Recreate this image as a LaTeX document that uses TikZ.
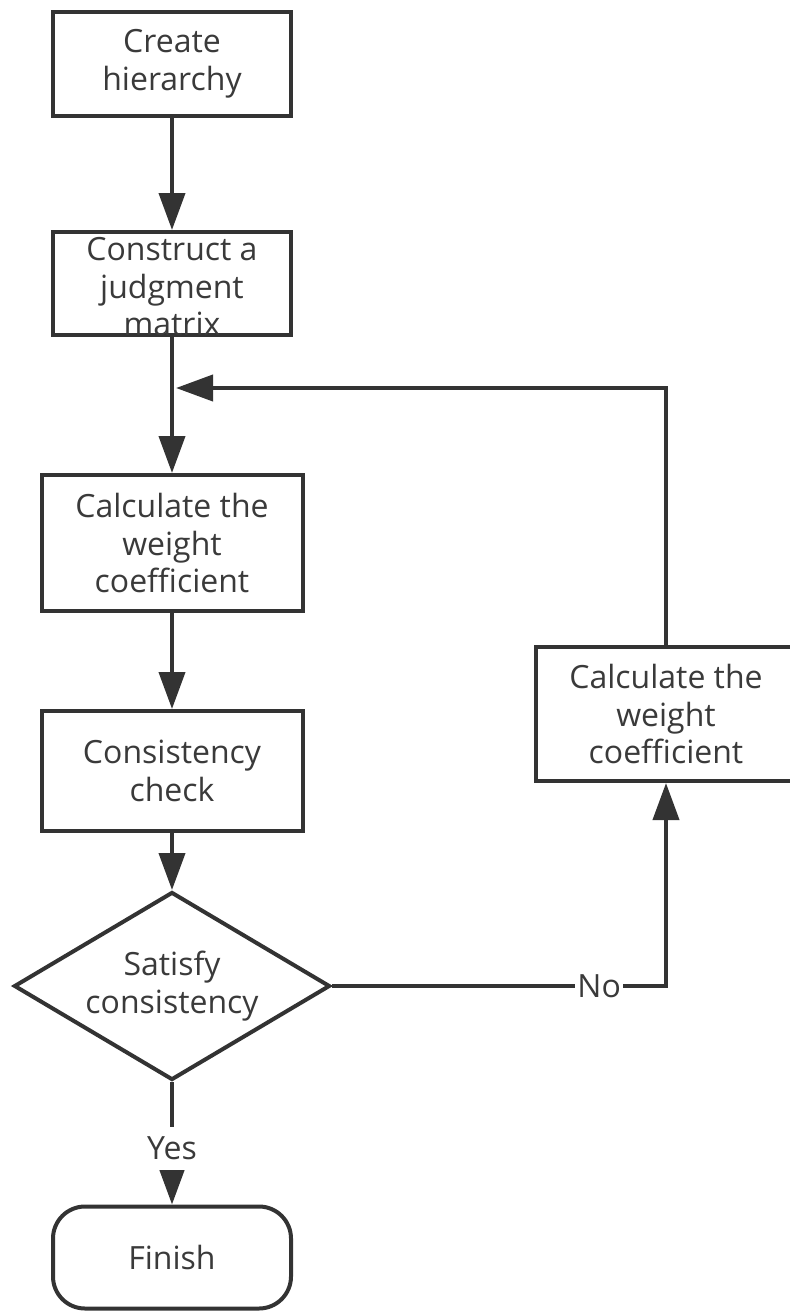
\documentclass[tikz,border=0pt]{standalone}
\usepackage{fontspec}
\setmainfont{Open Sans}
\usetikzlibrary{arrows.meta,shapes.geometric}
\definecolor{linegray}{RGB}{51,51,51}
\definecolor{textgray}{RGB}{58,58,58}

\begin{document}
\begin{tikzpicture}[x=0.5pt, y=-0.5pt,
	every node/.style={font=\fontsize{16}{18.75}\selectfont, text=textgray},
	stepbox/.style={draw=linegray, line width=2pt, align=center, inner sep=0pt},
	narrowbox/.style={stepbox, minimum width=119pt},
	widebox/.style={stepbox, minimum width=130.5pt},
	flow/.style={draw=linegray, line width=2pt, -{Triangle[length=18.5pt,width=13pt]}},
	wire/.style={draw=linegray, line width=2pt},
	tag/.style={fill=white, inner xsep=1pt, inner ysep=5pt}]
	\useasboundingbox (0,0) rectangle (789,1311);
	\node[narrowbox, minimum height=52pt] (create) at (172,64) {Create\\hierarchy};
	\node[narrowbox, minimum height=51.5pt] (judge) at (172,283.5) {};
	\node[align=center] (judgetext) at (172,287) {Construct a\\judgment\\matrix};
	\node[widebox, minimum height=68pt] (calcone) at (172,543) {Calculate the\\weight\\coefficient};
	\node[widebox, minimum height=60pt] (check) at (172,771) {Consistency\\check};
	\node[diamond, aspect=1.67, draw=linegray, line width=2pt, align=center, inner sep=0pt,
		minimum width=158pt, minimum height=94pt] (decide) at (172,986) {Satisfy\\consistency};
	\node[narrowbox, minimum height=51pt, rounded corners=16pt] (finish) at (172,1257.5) {Finish};
	\node[widebox, minimum height=67pt] (calctwo) at (666,714) {Calculate the\\weight\\coefficient};
	\coordinate (join) at (176,388);
	\draw[flow] (create) -- (judge);
	\draw[flow] (judge) -- (calcone);
	\draw[flow] (calcone) -- (check);
	\draw[flow] (check) -- (decide);
	\draw[flow] (decide) -- node[tag, pos=0.54] (yes) {Yes} (finish);
	\draw[flow] (decide.east) -- node[tag, pos=0.8] (no) {No} (decide.east -| calctwo.south) -- (calctwo.south);
	\draw[flow] (calctwo.north) |- (join);
\end{tikzpicture}
\end{document}
